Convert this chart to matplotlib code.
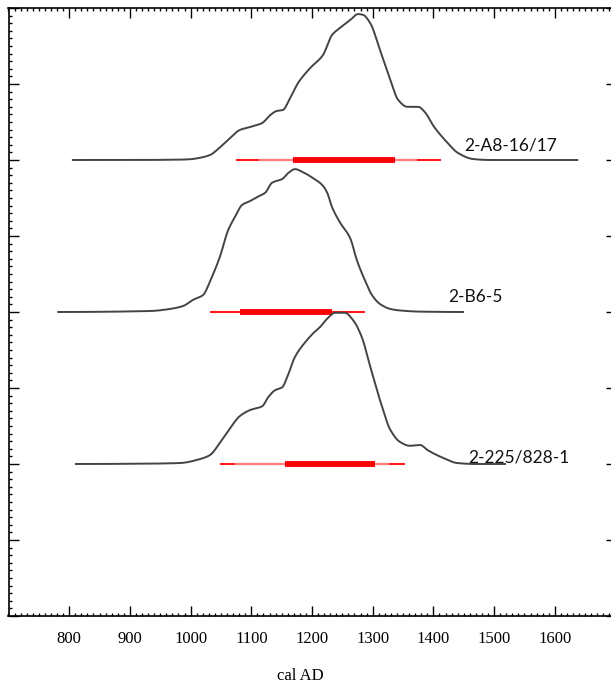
import matplotlib
matplotlib.use("Agg")
from matplotlib import pyplot as plt
from matplotlib.ticker import MultipleLocator
import numpy as np

# calibrated date distributions (cal AD, relative probability)
yrs_a8 = [806, 900, 983, 999, 1016, 1032, 1048, 1065, 1081, 1098, 1118, 1131, 1142, 1152,
          1164, 1177, 1197, 1218, 1233, 1246, 1263, 1276, 1284, 1296, 1312, 1329, 1342,
          1357, 1375, 1386, 1399, 1422, 1441, 1465, 1493, 1637]
prob_a8 = [0, 0, 0.005, 0.01, 0.03, 0.066, 0.164, 0.29, 0.395, 0.434, 0.487, 0.59, 0.645, 0.658,
           0.816, 1.013, 1.21, 1.38, 1.645, 1.737, 1.842, 1.92, 1.91, 1.80, 1.447, 1.053, 0.79,
           0.70, 0.70, 0.63, 0.46, 0.237, 0.09, 0.013, 0, 0]

yrs_b6 = [782, 933, 966, 988, 1004, 1020, 1035, 1048, 1062, 1073, 1085, 1098, 1109, 1123,
          1134, 1151, 1161, 1172, 1185, 1202, 1217, 1225, 1233, 1246, 1263, 1274, 1287,
          1299, 1312, 1329, 1345, 1378, 1449]
prob_b6 = [0, 0.013, 0.04, 0.08, 0.16, 0.22, 0.46, 0.72, 1.08, 1.25, 1.41, 1.46, 1.51, 1.57,
           1.70, 1.75, 1.83, 1.88, 1.84, 1.76, 1.67, 1.57, 1.38, 1.18, 0.97, 0.68, 0.42,
           0.22, 0.105, 0.04, 0.02, 0.005, 0]

yrs_225 = [811, 933, 983, 1016, 1032, 1048, 1065, 1081, 1098, 1118, 1128, 1139, 1151, 1159,
           1172, 1189, 1202, 1213, 1226, 1238, 1254, 1268, 1282, 1296, 1312, 1329, 1345,
           1361, 1378, 1391, 1416, 1439, 1469, 1518]
prob_225 = [0, 0.005, 0.013, 0.066, 0.118, 0.276, 0.47, 0.63, 0.71, 0.76, 0.88, 0.97, 1.01, 1.14,
            1.41, 1.605, 1.72, 1.80, 1.92, 1.99, 1.99, 1.89, 1.67, 1.28, 0.84, 0.45, 0.29,
            0.24, 0.25, 0.18, 0.08, 0.013, 0, 0]

names = ["2-A8-16/17", "2-B6-5", "2-225/828-1"]
offsets = [6, 4, 2]
# ranges: outer (95.4%), inner light segments, thick (68.2%)
outer = [(1075, 1413), (1032, 1287), (1048, 1353)]
light = [[(1113, 1169), (1337, 1373)], [], [(1073, 1156), (1304, 1327)]]
thick = [(1169, 1337), (1081, 1233), (1156, 1304)]
label_pos = [(1451, 6.19), (1424, 4.2), (1457, 2.09)]


def smooth(xs, ys, n=600):
    # monotone cubic (pchip) curve through the read points, for drawing only
    x = np.asarray(xs, float)
    y = np.asarray(ys, float)
    h = np.diff(x)
    d = np.diff(y) / h
    m = np.zeros_like(y)
    for k in range(1, len(x) - 1):
        if d[k - 1] * d[k] > 0:
            w1 = 2 * h[k] + h[k - 1]
            w2 = h[k] + 2 * h[k - 1]
            m[k] = (w1 + w2) / (w1 / d[k - 1] + w2 / d[k])
    xx = np.linspace(x[0], x[-1], n)
    idx = np.clip(np.searchsorted(x, xx) - 1, 0, len(x) - 2)
    t = (xx - x[idx]) / h[idx]
    h00 = 2 * t**3 - 3 * t**2 + 1
    h10 = t**3 - 2 * t**2 + t
    h01 = -2 * t**3 + 3 * t**2
    h11 = t**3 - t**2
    yy = h00 * y[idx] + h10 * h[idx] * m[idx] + h01 * y[idx + 1] + h11 * h[idx] * m[idx + 1]
    return xx, yy


fig = plt.figure(figsize=(6.11, 6.88), dpi=100)
ax = fig.add_axes([8.5 / 611, 72 / 688, 607 / 611, 608 / 688])

curves = [(yrs_a8, prob_a8), (yrs_b6, prob_b6), (yrs_225, prob_225)]
for i, (xs, ps) in enumerate(curves):
    off = offsets[i]
    sx, sy = smooth(xs, ps)
    ax.plot(sx, sy + off, color="#444444", lw=1.4, zorder=3)
    ax.plot(outer[i], [off, off], color="#ff1a1a", lw=1.5, solid_capstyle="butt", zorder=2)
    for seg in light[i]:
        ax.plot(seg, [off, off], color="#ff8080", lw=1.6, solid_capstyle="butt", zorder=2)
    ax.plot(thick[i], [off, off], color="#ff0000", lw=4.2, solid_capstyle="butt", zorder=2)
    ax.text(label_pos[i][0], label_pos[i][1], names[i], fontsize=12.5,
            family=["Lato", "DejaVu Sans"], color="#111111", va="center", ha="left")

ax.set_xlim(700, 1700)
ax.set_ylim(0, 8)
ax.xaxis.set_major_locator(MultipleLocator(100))
ax.xaxis.set_minor_locator(MultipleLocator(10))
ax.yaxis.set_major_locator(MultipleLocator(1))
ax.yaxis.set_minor_locator(MultipleLocator(0.1))
ax.tick_params(which="both", direction="in", top=True, right=True, width=1.0)
ax.tick_params(which="major", length=7.5)
ax.tick_params(which="minor", length=2.3)
ax.tick_params(axis="x", pad=11)
ax.set_yticklabels([])
ax.set_xticks(range(800, 1700, 100))
ax.set_xticklabels([str(v) for v in range(800, 1700, 100)], family="Liberation Serif", fontsize=12)
for s in ax.spines.values():
    s.set_linewidth(1.2)

fig.text(300 / 611, 1 - 676 / 688, "cal AD", family="Liberation Serif", fontsize=12,
         ha="center", va="center")

fig.savefig("out.png", dpi=100)
